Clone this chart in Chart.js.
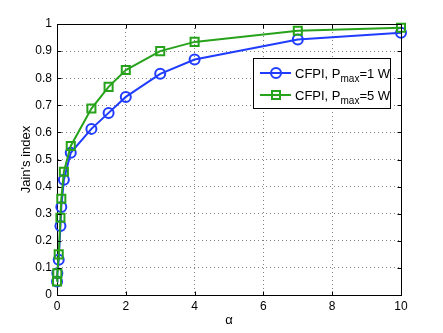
<!DOCTYPE html>
<html>
<head>
<meta charset="utf-8">
<script src="https://cdn.jsdelivr.net/npm/chart.js@4/dist/chart.umd.min.js"></script>
<style>
  html, body { margin: 0; padding: 0; background: #fff; }
  #chart { display: block; }
</style>
</head>
<body>
<canvas id="chart" width="443" height="333"></canvas>
<script>
// alpha values (x) and Jain's index for the two power budgets
const alphaValues = [0.001, 0.01, 0.05, 0.1, 0.125, 0.2, 0.4, 1, 1.5, 2, 3, 4, 7, 10];
const jainPmax1 = [0.05, 0.08, 0.13, 0.255, 0.325, 0.425, 0.525, 0.613, 0.672, 0.731, 0.816, 0.869, 0.943, 0.968];
const jainPmax5 = [0.05, 0.08, 0.15, 0.285, 0.355, 0.455, 0.55, 0.688, 0.768, 0.83, 0.90, 0.934, 0.975, 0.986];

const xTicks = [0, 2, 4, 6, 8, 10];
const yTicks = [0, 0.1, 0.2, 0.3, 0.4, 0.5, 0.6, 0.7, 0.8, 0.9, 1];

// legend text split as  prefix / subscript / suffix
const legendParts = [
  ['CFPI, P', 'max', '=1 W'],
  ['CFPI, P', 'max', '=5 W']
];

const BLUE = '#1f3cff';
const GREEN = '#27a21b';
const FONT = '"Liberation Sans", Arial, Helvetica, sans-serif';

const toPoints = ys => ys.map((y, i) => ({ x: alphaValues[i], y: y }));

// MATLAB-ish box, inward ticks and the legend with subscripts
const frameAndLegend = {
  id: 'frameAndLegend',
  afterDraw(chart) {
    const { ctx, chartArea: a, scales: { x, y } } = chart;
    const L = Math.round(a.left) + 0.5, R = Math.round(a.right) + 0.5;
    const T = Math.round(a.top) + 0.5, B = Math.round(a.bottom) + 0.5;
    ctx.save();
    ctx.lineWidth = 1;
    ctx.strokeStyle = '#000';
    ctx.beginPath();
    ctx.moveTo(L, T); ctx.lineTo(R, T); ctx.lineTo(R, B);
    xTicks.forEach(v => {
      const px = Math.round(x.getPixelForValue(v)) + 0.5;
      ctx.moveTo(px, B); ctx.lineTo(px, B - 4);
      ctx.moveTo(px, T); ctx.lineTo(px, T + 4);
    });
    yTicks.forEach(v => {
      const py = Math.round(y.getPixelForValue(v)) + 0.5;
      ctx.moveTo(L, py); ctx.lineTo(L + 4, py);
      ctx.moveTo(R, py); ctx.lineTo(R - 4, py);
    });
    ctx.stroke();

    // legend
    ctx.fillStyle = '#fff';
    ctx.fillRect(253.5, 58.5, 137, 50);
    ctx.strokeRect(253.5, 58.5, 137, 50);
    const rows = [73, 95];
    const colors = [BLUE, GREEN];
    rows.forEach((ry, i) => {
      ctx.strokeStyle = colors[i];
      ctx.lineWidth = 2;
      ctx.beginPath();
      ctx.moveTo(260, ry); ctx.lineTo(291, ry);
      ctx.stroke();
      ctx.beginPath();
      if (i === 0) {
        ctx.arc(276, ry, 5, 0, Math.PI * 2);
      } else {
        ctx.rect(272, ry - 4, 8, 8);
      }
      ctx.stroke();

      const [pre, sub, post] = legendParts[i];
      ctx.fillStyle = '#000';
      ctx.textBaseline = 'alphabetic';
      ctx.textAlign = 'left';
      let tx = 295;
      ctx.font = '13px ' + FONT;
      ctx.fillText(pre, tx, ry + 4.5);
      tx += ctx.measureText(pre).width;
      ctx.font = '10px ' + FONT;
      ctx.fillText(sub, tx, ry + 8.5);
      tx += ctx.measureText(sub).width;
      ctx.font = '13px ' + FONT;
      ctx.fillText(post, tx, ry + 4.5);
    });
    ctx.restore();
  }
};

const tickFont = { family: FONT, size: 12 };
const titleFont = { family: FONT, size: 13 };
const gridDash = [1, 3]; // dotted grid

new Chart(document.getElementById('chart'), {
  type: 'line',
  data: {
    datasets: [
      {
        label: legendParts[0].join(''),
        data: toPoints(jainPmax1),
        borderColor: BLUE,
        backgroundColor: 'transparent',
        pointBorderColor: BLUE,
        pointBackgroundColor: 'transparent',
        pointStyle: 'circle',
        pointRadius: 5,
        pointBorderWidth: 2,
        borderWidth: 2,
        tension: 0,
        clip: false,
        order: 1
      },
      {
        label: legendParts[1].join(''),
        data: toPoints(jainPmax5),
        borderColor: GREEN,
        backgroundColor: 'transparent',
        pointBorderColor: GREEN,
        pointBackgroundColor: 'transparent',
        pointStyle: 'rect',
        pointRadius: 5.7,
        pointBorderWidth: 2,
        borderWidth: 2,
        tension: 0,
        clip: false,
        order: 0
      }
    ]
  },
  options: {
    responsive: false,
    devicePixelRatio: 1,
    animation: false,
    layout: { padding: { top: 24, right: 42, bottom: 0, left: 0 } },
    plugins: {
      legend: { display: false },
      tooltip: { enabled: false }
    },
    scales: {
      x: {
        type: 'linear',
        min: 0,
        max: 10,
        afterBuildTicks: s => { s.ticks = xTicks.map(v => ({ value: v })); },
        afterFit: s => { s.height = 38; },
        ticks: { font: tickFont, color: '#000', padding: 4, maxRotation: 0, callback: v => String(v) },
        grid: { color: '#808080', drawTicks: false, lineWidth: 1 },
        border: { display: true, color: '#000', width: 1, dash: gridDash },
        title: { display: true, text: 'α', font: titleFont, color: '#000', padding: { top: 0, bottom: 5 } }
      },
      y: {
        min: 0,
        max: 1,
        afterBuildTicks: s => { s.ticks = yTicks.map(v => ({ value: v })); },
        afterFit: s => { s.width = 57; },
        ticks: { font: tickFont, color: '#000', padding: 5, callback: v => String(v) },
        grid: { color: '#808080', drawTicks: false, lineWidth: 1 },
        border: { display: true, color: '#000', width: 1, dash: gridDash },
        title: { display: true, text: "Jain's index", font: titleFont, color: '#000', padding: { top: 19, bottom: 0 } }
      }
    }
  },
  plugins: [frameAndLegend]
});
</script>
</body>
</html>
